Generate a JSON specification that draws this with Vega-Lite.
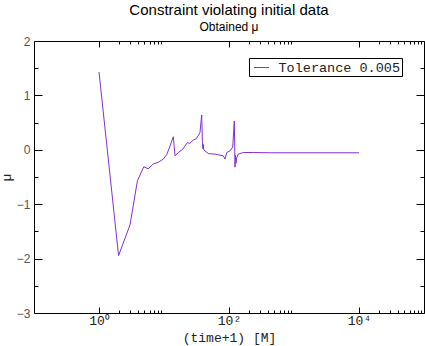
{
  "$schema": "https://vega.github.io/schema/vega-lite/v6.json",
  "width": 390,
  "height": 272,
  "autosize": "none",
  "padding": {"left": 34, "top": 41, "right": 1, "bottom": 33},
  "config": {
    "view": {"stroke": "black", "strokeWidth": 1},
    "font": "Liberation Sans"
  },
  "title": {
    "text": "Constraint violating initial data",
    "subtitle": "Obtained μ",
    "anchor": "middle",
    "font": "Liberation Sans",
    "fontSize": 15,
    "fontWeight": "normal",
    "color": "black",
    "subtitleFont": "Liberation Sans",
    "subtitleFontSize": 12,
    "subtitleColor": "black",
    "subtitlePadding": 4,
    "offset": 2
  },
  "data": {
    "values": [
      {"t": 1, "mu": 1.43, "s": "Tolerance 0.005"},
      {"t": 2, "mu": -1.945, "s": "Tolerance 0.005"},
      {"t": 3, "mu": -1.38, "s": "Tolerance 0.005"},
      {"t": 3.9, "mu": -0.57, "s": "Tolerance 0.005"},
      {"t": 4.9, "mu": -0.31, "s": "Tolerance 0.005"},
      {"t": 5.7, "mu": -0.35, "s": "Tolerance 0.005"},
      {"t": 6.85, "mu": -0.26, "s": "Tolerance 0.005"},
      {"t": 8.2, "mu": -0.23, "s": "Tolerance 0.005"},
      {"t": 9.75, "mu": -0.17, "s": "Tolerance 0.005"},
      {"t": 11, "mu": -0.09, "s": "Tolerance 0.005"},
      {"t": 12.4, "mu": 0.07, "s": "Tolerance 0.005"},
      {"t": 13.9, "mu": 0.24, "s": "Tolerance 0.005"},
      {"t": 14.8, "mu": -0.11, "s": "Tolerance 0.005"},
      {"t": 16.6, "mu": -0.05, "s": "Tolerance 0.005"},
      {"t": 19.4, "mu": 0.01, "s": "Tolerance 0.005"},
      {"t": 22.8, "mu": 0.13, "s": "Tolerance 0.005"},
      {"t": 25.1, "mu": 0.12, "s": "Tolerance 0.005"},
      {"t": 28.2, "mu": 0.18, "s": "Tolerance 0.005"},
      {"t": 31, "mu": 0.2, "s": "Tolerance 0.005"},
      {"t": 33.7, "mu": 0.26, "s": "Tolerance 0.005"},
      {"t": 35.8, "mu": 0.32, "s": "Tolerance 0.005"},
      {"t": 38, "mu": 0.64, "s": "Tolerance 0.005"},
      {"t": 39, "mu": 0.15, "s": "Tolerance 0.005"},
      {"t": 39.6, "mu": 0.02, "s": "Tolerance 0.005"},
      {"t": 40.2, "mu": 0.1, "s": "Tolerance 0.005"},
      {"t": 41, "mu": 0.0, "s": "Tolerance 0.005"},
      {"t": 42.7, "mu": -0.02, "s": "Tolerance 0.005"},
      {"t": 48.1, "mu": -0.07, "s": "Tolerance 0.005"},
      {"t": 60.9, "mu": -0.08, "s": "Tolerance 0.005"},
      {"t": 81.7, "mu": -0.11, "s": "Tolerance 0.005"},
      {"t": 86.8, "mu": -0.17, "s": "Tolerance 0.005"},
      {"t": 92.2, "mu": -0.05, "s": "Tolerance 0.005"},
      {"t": 103.5, "mu": -0.02, "s": "Tolerance 0.005"},
      {"t": 114, "mu": 0.05, "s": "Tolerance 0.005"},
      {"t": 120.7, "mu": 0.53, "s": "Tolerance 0.005"},
      {"t": 123.7, "mu": -0.32, "s": "Tolerance 0.005"},
      {"t": 126, "mu": -0.1, "s": "Tolerance 0.005"},
      {"t": 128, "mu": -0.25, "s": "Tolerance 0.005"},
      {"t": 131, "mu": -0.15, "s": "Tolerance 0.005"},
      {"t": 139, "mu": -0.08, "s": "Tolerance 0.005"},
      {"t": 166, "mu": -0.05, "s": "Tolerance 0.005"},
      {"t": 236, "mu": -0.05, "s": "Tolerance 0.005"},
      {"t": 475, "mu": -0.055, "s": "Tolerance 0.005"},
      {"t": 10000, "mu": -0.055, "s": "Tolerance 0.005"}
    ]
  },
  "layer": [
    {
      "mark": {"type": "line", "strokeWidth": 1, "clip": true},
      "encoding": {
        "x": {
          "field": "t", "type": "quantitative",
          "scale": {"type": "log", "domain": [0.1, 100000], "nice": false},
          "axis": {
            "orient": "bottom",
            "title": "(time+1) [M]",
            "titleFont": "Liberation Mono",
            "titleFontSize": 13,
            "titleFontWeight": "normal",
            "titleColor": "#222",
            "titlePadding": 1,
            "values": [1,2,3,4,5,6,7,8,9,100,200,300,400,500,600,700,800,900,10000,20000,30000,40000,50000,60000,70000,80000,90000],
            "labelExpr": "datum.value == 1 ? '10⁰' : datum.value == 100 ? '10²' : datum.value == 10000 ? '10⁴' : ''",
            "labelFont": "Liberation Mono",
            "labelFontSize": 13,
            "labelColor": "#222",
            "labelPadding": 7,
            "labelFlush": false,
            "labelOverlap": false,
            "tickColor": "black",
            "tickSize": {"condition": {"test": "datum.value == 1 || datum.value == 100 || datum.value == 10000", "value": -6}, "value": -3},
            "domain": false,
            "grid": false
          }
        },
        "y": {
          "field": "mu", "type": "quantitative",
          "scale": {"domain": [-3, 2], "nice": false, "zero": false},
          "axis": {
            "orient": "left",
            "title": "μ",
            "titleFont": "Liberation Sans",
            "titleFontSize": 13,
            "titleFontWeight": "normal",
            "titleColor": "#222",
            "titlePadding": 3,
            "values": [-3,-2.5,-2,-1.5,-1,-0.5,0,0.5,1,1.5,2],
            "labelExpr": "datum.value % 1 == 0 ? replace(format(datum.value, 'd'), '-', '−') : ''",
            "labelFont": "Liberation Sans",
            "labelFontSize": 12,
            "labelColor": "#555",
            "labelPadding": 12,
            "labelFlush": false,
            "labelOverlap": false,
            "tickColor": "black",
            "tickSize": {"condition": {"test": "datum.value % 1 == 0", "value": -8}, "value": -4},
            "domain": false,
            "grid": false
          }
        },
        "color": {
          "field": "s", "type": "nominal",
          "scale": {"range": ["#8232d2"]},
          "legend": {
            "title": null,
            "orient": "none",
            "legendX": 215,
            "legendY": 17,
            "symbolType": "stroke",
            "symbolSize": 225,
            "symbolStrokeWidth": 1,
            "symbolOffset": 3,
            "labelFont": "Liberation Mono",
            "labelFontSize": 13.5,
            "labelColor": "#222",
            "labelOffset": 9,
            "strokeColor": "black",
            "fillColor": "white",
            "padding": 1.5
          }
        }
      }
    },
    {
      "mark": {"type": "line", "opacity": 0},
      "encoding": {
        "x": {
          "field": "t", "type": "quantitative",
          "axis": {
            "orient": "top",
            "title": null,
            "values": [1,2,3,4,5,6,7,8,9,100,200,300,400,500,600,700,800,900,10000,20000,30000,40000,50000,60000,70000,80000,90000],
            "labels": false,
            "tickColor": "black",
            "tickSize": {"condition": {"test": "datum.value == 1 || datum.value == 100 || datum.value == 10000", "value": -6}, "value": -3},
            "domain": false,
            "grid": false
          }
        },
        "y": {
          "field": "mu", "type": "quantitative",
          "axis": {
            "orient": "right",
            "title": null,
            "values": [-3,-2.5,-2,-1.5,-1,-0.5,0,0.5,1,1.5,2],
            "labels": false,
            "tickColor": "black",
            "tickSize": {"condition": {"test": "datum.value % 1 == 0", "value": -8}, "value": -4},
            "domain": false,
            "grid": false
          }
        }
      }
    }
  ],
  "resolve": {"axis": {"x": "independent", "y": "independent"}}
}
